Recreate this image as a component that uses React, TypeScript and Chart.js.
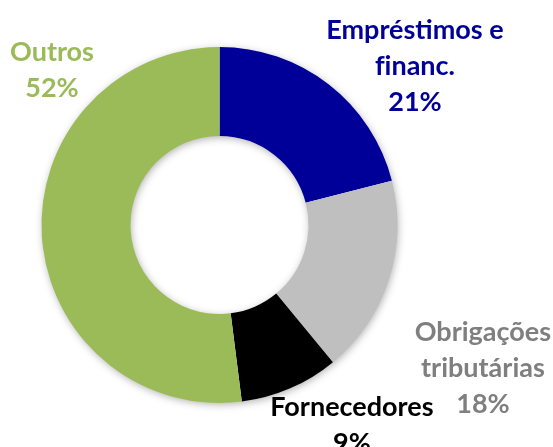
import React, { useEffect, useRef } from "react";
import { Chart, registerables } from "chart.js";

Chart.register(...registerables);

const categories = ["Empréstimos e financ.", "Obrigações tributárias", "Fornecedores", "Outros"];
const labelLines = [["Empréstimos e", "f\u200Cinanc."], ["Obrigações", "tributárias"], ["Fornecedores"], ["Outros"]];
const values = [21, 18, 9, 52];
const sliceColors = ["#000099", "#BFBFBF", "#000000", "#9BBB59"];
const textColors = ["#000099", "#7F7F7F", "#000000", "#9BBB59"];

// label anchor offsets in units of the outer radius, relative to the doughnut centre
const labelOffsets = [
  [1.098, -1.095],
  [1.48, 0.601],
  [0.744, 1.022],
  [-0.941, -0.972],
];

const FONT = "bold 27px Lato, 'Open Sans', sans-serif";
const LINE_H = 36;

const shadowPlugin = {
  id: "ringShadow",
  beforeDatasetsDraw(chart: any) {
    const meta = chart.getDatasetMeta(0);
    const arc = meta.data[0];
    if (!arc) return;
    const { x, y, outerRadius, innerRadius } = arc.getProps(["x", "y", "outerRadius", "innerRadius"], true);
    const ctx = chart.ctx;
    ctx.save();
    ctx.shadowColor = "rgba(0,0,0,0.35)";
    ctx.shadowBlur = 8;
    ctx.shadowOffsetX = 1;
    ctx.shadowOffsetY = 2;
    ctx.fillStyle = "#ffffff";
    ctx.beginPath();
    ctx.arc(x, y, outerRadius - 1, 0, Math.PI * 2);
    ctx.arc(x, y, innerRadius + 1, 0, Math.PI * 2, true);
    ctx.fill();
    ctx.restore();
  },
};

const labelPlugin = {
  id: "sliceLabels",
  afterDraw(chart: any) {
    const meta = chart.getDatasetMeta(0);
    const arc = meta.data[0];
    if (!arc) return;
    const { x, y, outerRadius } = arc.getProps(["x", "y", "outerRadius"], true);
    const ctx = chart.ctx;
    ctx.save();
    ctx.font = FONT;
    ctx.textAlign = "center";
    ctx.textBaseline = "middle";
    values.forEach((v, i) => {
      const lines = [...labelLines[i], `${v}%`];
      const cx = x + labelOffsets[i][0] * outerRadius;
      const cy = y + labelOffsets[i][1] * outerRadius;
      ctx.fillStyle = textColors[i];
      lines.forEach((t, j) => ctx.fillText(t, cx, cy + j * LINE_H));
    });
    ctx.restore();
  },
};

export default function App() {
  const ref = useRef<HTMLCanvasElement>(null);
  useEffect(() => {
    document.body.style.margin = "0";
    const chart = new Chart(ref.current!, {
      type: "doughnut",
      data: {
        labels: categories,
        datasets: [
          {
            data: values,
            backgroundColor: sliceColors,
            borderWidth: 0,
          },
        ],
      },
      options: {
        responsive: false,
        animation: false,
        cutout: "50%",
        layout: { padding: { left: 41.5, right: 155.5, top: 47, bottom: 44 } },
        plugins: { legend: { display: false }, tooltip: { enabled: false } },
      },
      plugins: [shadowPlugin, labelPlugin],
    });
    return () => chart.destroy();
  }, []);
  return <canvas ref={ref} width={553} height={447} style={{ display: "block" }} />;
}
